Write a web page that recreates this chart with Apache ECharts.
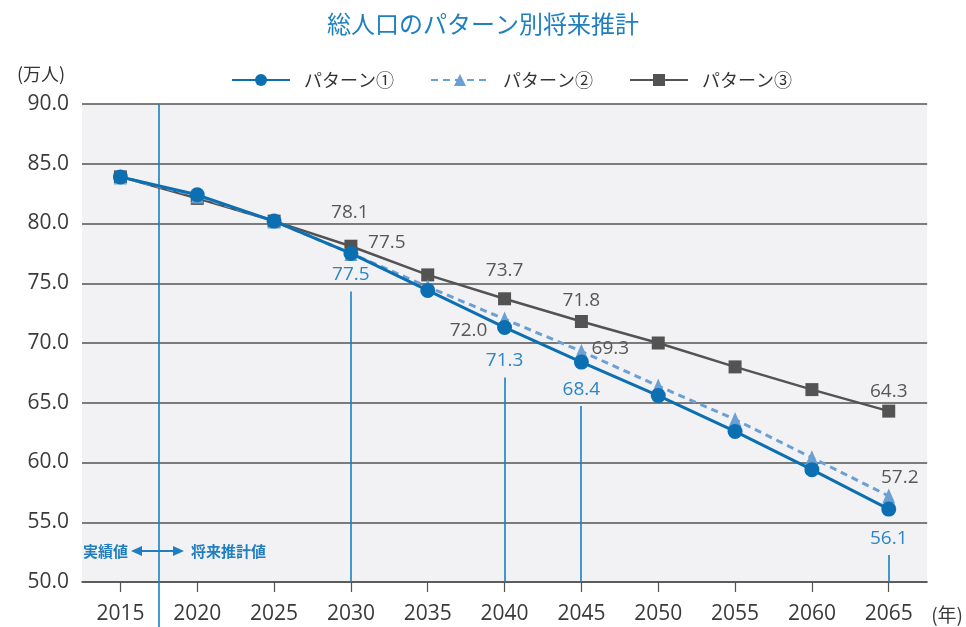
<!DOCTYPE html>
<html>
<head>
<meta charset="utf-8">
<script src="https://cdn.jsdelivr.net/npm/echarts@6/dist/echarts.min.js"></script>
<style>
  html, body { margin: 0; padding: 0; background: #ffffff; overflow: hidden; }
  #chart { width: 966px; height: 627px; }
</style>
</head>
<body>
<div id="chart"></div>
<script>
// ---- data ----
const years = ['2015', '2020', '2025', '2030', '2035', '2040', '2045', '2050', '2055', '2060', '2065'];
const pattern1 = [83.9, 82.4, 80.2, 77.5, 74.4, 71.3, 68.4, 65.6, 62.6, 59.4, 56.1];
const pattern2 = [83.9, 82.3, 80.2, 77.5, 74.7, 72.0, 69.3, 66.4, 63.6, 60.4, 57.2];
const pattern3 = [83.9, 82.1, 80.2, 78.1, 75.7, 73.7, 71.8, 70.0, 68.0, 66.1, 64.3];
const seriesNames = ['パターン①', 'パターン②', 'パターン③'];
const labeledIdx = [3, 5, 6, 10];

// ---- styles ----
const BLUE = '#0b6fb2';
const BLUE_TXT = '#2a86c6';
const LIGHT = '#6aa0d4';
const GRAY = '#535353';
const GRAY_TXT = '#575757';
const MARK = '#1a7fc4';
const NUMFONT = "'Open Sans', 'Noto Sans CJK JP', sans-serif";
const JPFONT = "'Noto Sans CJK JP', 'Open Sans', sans-serif";

// label offsets (style only)
const off1 = {3: [0, 21], 5: [0, 33], 6: [0, 27], 10: [0, 29]};
const off2 = {3: [36, -11], 5: [-36, 11], 6: [29, -3], 10: [11, -18]};
const off3 = {3: [-1, -34], 5: [0, -28], 6: [0, -21], 10: [0, -20]};

function build(values, offs, color) {
  return values.map((v, i) => {
    const item = { value: v };
    if (labeledIdx.includes(i)) {
      item.label = {
        show: true, position: 'inside', offset: offs[i],
        formatter: v.toFixed(1), color: color,
        fontSize: 19, fontFamily: NUMFONT
      };
    }
    return item;
  });
}

const chart = echarts.init(document.getElementById('chart'), null, { renderer: 'canvas', width: 966, height: 627 });

const option = {
  animation: false,
  backgroundColor: '#ffffff',
  title: [
    { text: '総人口のパターン別将来推計', left: 'center', top: 7,
      textStyle: { color: '#1f80c1', fontSize: 24, fontWeight: 'normal', fontFamily: JPFONT } },
    { text: '(万人)', left: 12, top: 60,
      textStyle: { color: '#333', fontSize: 18, fontWeight: 'normal', fontFamily: JPFONT } }
  ],
  legend: {
    data: seriesNames, left: 226, top: 66,
    itemWidth: 58, itemHeight: 15, itemGap: 36,
    textStyle: { color: '#333', fontSize: 18, fontFamily: JPFONT, padding: [0, 0, 0, 9] }
  },
  grid: { left: 82, right: 32, top: 104, bottom: 45, show: true, backgroundColor: '#f2f2f4', borderWidth: 0 },
  xAxis: {
    type: 'category', data: years, boundaryGap: true,
    axisLine: { show: true, lineStyle: { color: GRAY, width: 1.5 } },
    axisTick: { show: true, alignWithLabel: true, length: 10, lineStyle: { color: GRAY, width: 1.2 } },
    axisLabel: { color: '#3a3a3a', fontSize: 21, fontFamily: NUMFONT, margin: 22 },
    name: '(年)', nameLocation: 'end', nameGap: 4,
    nameTextStyle: { color: '#3a3a3a', fontSize: 19, fontFamily: JPFONT, verticalAlign: 'top', padding: [23, 0, 0, 0] }
  },
  yAxis: {
    type: 'value', min: 50, max: 90, interval: 5,
    axisLine: { show: false }, axisTick: { show: false },
    axisLabel: { color: '#3a3a3a', fontSize: 21, fontFamily: NUMFONT, margin: 13,
      formatter: v => v.toFixed(1) },
    splitLine: { show: true, lineStyle: { color: GRAY, width: 1.5 } }
  },
  series: [
    { name: seriesNames[2], type: 'line', data: build(pattern3, off3, GRAY_TXT),
      symbol: 'rect', symbolSize: 13, color: GRAY,
      lineStyle: { color: GRAY, width: 2.5 }, itemStyle: { color: GRAY }, z: 2 },
    { name: seriesNames[1], type: 'line', data: build(pattern2, off2, GRAY_TXT),
      symbol: 'triangle', symbolSize: [13, 15], color: LIGHT,
      lineStyle: { color: LIGHT, width: 3, type: [7, 5] }, itemStyle: { color: LIGHT }, z: 3 },
    { name: seriesNames[0], type: 'line', data: build(pattern1, off1, BLUE_TXT),
      symbol: 'circle', symbolSize: 15, color: BLUE,
      lineStyle: { color: BLUE, width: 3 }, itemStyle: { color: BLUE }, z: 4 }
  ]
};
chart.setOption(option);

// ---- annotations computed from the axes ----
const xa = chart.convertToPixel({ xAxisIndex: 0 }, years[0]);
const xb = chart.convertToPixel({ xAxisIndex: 0 }, years[1]);
const sepX = Math.round((xa + xb) / 2);
const topY = chart.convertToPixel({ yAxisIndex: 0 }, 90);
const botY = chart.convertToPixel({ yAxisIndex: 0 }, 50);
const annY = botY - 31;

const graphics = [
  { type: 'line', z: 1, shape: { x1: sepX, y1: topY, x2: sepX, y2: 627 },
    style: { stroke: MARK, lineWidth: 1.6 } },
  { type: 'text', z: 5, style: { text: '実績値', x: sepX - 31, y: annY, align: 'right', verticalAlign: 'middle',
      fill: '#1f7ec0', font: "bold 15px 'Noto Sans CJK JP'" } },
  { type: 'text', z: 5, style: { text: '将来推計値', x: sepX + 32, y: annY, align: 'left', verticalAlign: 'middle',
      fill: '#1f7ec0', font: "bold 15px 'Noto Sans CJK JP'" } },
  { type: 'line', z: 5, shape: { x1: sepX - 20, y1: annY, x2: sepX + 17, y2: annY },
    style: { stroke: '#1f7ec0', lineWidth: 2 } },
  { type: 'polygon', z: 5, shape: { points: [[sepX - 28, annY], [sepX - 17, annY - 5], [sepX - 17, annY + 5]] },
    style: { fill: '#1f7ec0' } },
  { type: 'polygon', z: 5, shape: { points: [[sepX + 25, annY], [sepX + 14, annY - 5], [sepX + 14, annY + 5]] },
    style: { fill: '#1f7ec0' } }
];
labeledIdx.forEach(i => {
  const p = chart.convertToPixel({ seriesIndex: 2 }, [i, pattern1[i]]);
  const x = Math.round(p[0]);
  graphics.push({ type: 'line', z: 1, shape: { x1: x, y1: p[1] + off1[i][1] + 17, x2: x, y2: botY },
    style: { stroke: MARK, lineWidth: 1.6 } });
});
chart.setOption({ graphic: graphics });
</script>
</body>
</html>
